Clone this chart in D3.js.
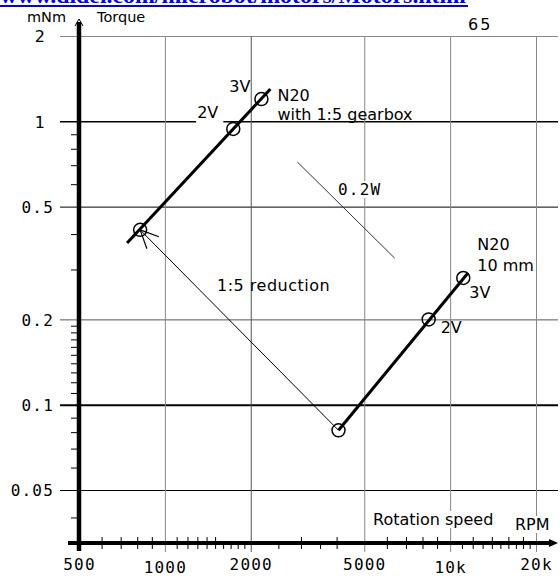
<!DOCTYPE html>
<html><head><meta charset="utf-8">
<script src="https://cdn.jsdelivr.net/npm/d3@7"></script>
<style>
html,body{margin:0;padding:0;background:#fff;overflow:hidden;}
svg{display:block;}
</style></head><body>
<script>
// ---- data ----
const xTickValues = [500, 1000, 2000, 5000, 10000, 20000];
const xTickLabels = ["500", "1000", "2000", "5000", "10k", "20k"];
const xGridValues = [1000, 2000, 5000, 10000, 20000];
const yTickValues = [0.05, 0.1, 0.2, 0.5, 1, 2];
const yTickLabels = ["0.05", "0.1", "0.2", "0.5", "1", "2"];
const xMinorFull = [600, 700, 800, 900, 1100, 1200, 1300, 1400, 1500, 3000, 4000, 6000, 7000, 8000, 9000, 12000, 14000, 16000, 18000];
const xMinorShort = [1600, 1700, 1800, 1900, 2500, 3500, 11000, 13000, 15000, 17000, 19000];
const yMinor = [0.04, 0.06, 0.07, 0.08, 0.09, 0.11, 0.12, 0.13, 0.14, 0.15, 0.16, 0.17, 0.18, 0.19, 0.3, 0.4, 0.6, 0.7, 0.8, 0.9];

// N20 10 mm motor: reduction point, 2V, 3V
const n20Speed = [4062, 8410, 11120];
const n20Torque = [0.0812, 0.200, 0.280];
const n20LineSpeed = [4062, 11530];
const n20LineTorque = [0.0812, 0.291];
// N20 with 1:5 gearbox: reduction point, 2V, 3V
const gearSpeed = [819, 1737, 2180];
const gearTorque = [0.414, 0.940, 1.198];
const gearLineSpeed = [737, 2344];
const gearLineTorque = [0.372, 1.30];
// 0.2 W iso-power line
const powerSpeed = [2916, 6390];
const powerTorque = [0.718, 0.329];

// ---- layout ----
const W = 560, H = 577;
const svg = d3.select("body").append("svg").attr("width", W).attr("height", H);
const x = d3.scaleLog().domain([500, 20000]).range([79, 536]);
const y = d3.scaleLog().domain([0.05, 2]).range([490, 36]);
const axisY = 543; // x-axis baseline position
const sans = "DejaVu Sans, sans-serif";
const mono = "DejaVu Sans Mono, monospace";

// URL header (clipped at top)
svg.append("text").attr("x", 0).attr("y", 3)
  .attr("font-family", "Liberation Serif, serif").attr("font-weight", "bold").attr("font-size", 20)
  .attr("fill", "#0000EE").attr("textLength", 466).attr("lengthAdjust", "spacingAndGlyphs")
  .text("www.didel.com/microbot/motors/Motors.html");
svg.append("rect").attr("x", 0).attr("y", 5).attr("width", 468).attr("height", 2).attr("fill", "#0000EE");

// horizontal gridlines via axis
const hStyles = [
  {c: "#000", w: 1}, {c: "#000", w: 2}, {c: "#555", w: 1}, {c: "#000", w: 1}, {c: "#000", w: 1.5}, {c: "#888", w: 1}
];
const gH = svg.append("g").attr("transform", "translate(60,0)")
  .call(d3.axisLeft(y).tickValues(yTickValues).tickSize(-498).tickPadding(7)
    .tickFormat((d, i) => yTickLabels[i]));
gH.select(".domain").remove();
gH.selectAll(".tick line").each(function(d, i) {
  d3.select(this).attr("stroke", hStyles[i].c).attr("stroke-width", hStyles[i].w);
});
gH.selectAll(".tick text").each(function(d, i) {
  const t = d3.select(this);
  if (d >= 1) {
    t.attr("font-family", sans).attr("font-size", 16).attr("x", -15);
  } else {
    t.attr("font-family", mono).attr("font-size", 16).attr("letter-spacing", 1.2).attr("x", -6);
  }
  t.attr("fill", "#000").attr("dy", "0.36em");
});

// vertical gridlines via axis
const gV = svg.append("g").attr("transform", `translate(0,552)`)
  .call(d3.axisBottom(x).tickValues(xGridValues).tickSize(-516).tickFormat(""));
gV.select(".domain").remove();
gV.selectAll(".tick line").attr("stroke", (d) => d === 2000 ? "#555" : "#888").attr("stroke-width", 1);

// minor ticks
const gmx = svg.append("g").attr("transform", `translate(0,${axisY - 6})`)
  .call(d3.axisBottom(x).tickValues(xMinorFull).tickSize(12).tickFormat(""));
gmx.select(".domain").remove();
gmx.selectAll(".tick line").attr("stroke", "#000").attr("stroke-width", 1);
const gmx2 = svg.append("g").attr("transform", `translate(0,${axisY})`)
  .call(d3.axisBottom(x).tickValues(xMinorShort).tickSize(6).tickFormat(""));
gmx2.select(".domain").remove();
gmx2.selectAll(".tick line").attr("stroke", "#000").attr("stroke-width", 1);
const gmy = svg.append("g").attr("transform", `translate(${x(500) + 2},0)`)
  .call(d3.axisLeft(y).tickValues(yMinor).tickSize(10).tickFormat(""));
gmy.select(".domain").remove();
gmy.selectAll(".tick line").attr("stroke", "#000").attr("stroke-width", 1);

// x tick labels via axis
const gxl = svg.append("g").attr("transform", `translate(0,${axisY})`)
  .call(d3.axisBottom(x).tickValues(xTickValues).tickSize(0).tickFormat((d, i) => xTickLabels[i]));
gxl.select(".domain").remove();
gxl.selectAll(".tick text")
  .attr("font-family", mono).attr("font-size", 16).attr("letter-spacing", 1.2).attr("fill", "#000")
  .attr("dy", 0)
  .attr("y", (d) => (d === 1000 || d === 10000) ? 30 : 27);

// main axes (thick)
svg.append("line").attr("x1", x(500)).attr("x2", x(500)).attr("y1", 22).attr("y2", 551)
  .attr("stroke", "#000").attr("stroke-width", 4.5);
svg.append("line").attr("x1", 68).attr("x2", 552).attr("y1", axisY).attr("y2", axisY)
  .attr("stroke", "#000").attr("stroke-width", 4);
svg.append("path").attr("d", `M${x(500) - 4},26 L${x(500)},19 L${x(500) + 4},26`)
  .attr("fill", "none").attr("stroke", "#000").attr("stroke-width", 1);
svg.append("path").attr("d", `M549,${axisY - 4} L558,${axisY} L549,${axisY + 4} Z`).attr("fill", "#000");

// helper for text with white background
function label(txt, px, py, opts = {}) {
  const g = svg.append("g");
  const t = g.append("text").attr("x", px).attr("y", py)
    .attr("font-family", opts.font || sans).attr("font-size", opts.size || 16)
    .attr("fill", "#000").attr("text-anchor", opts.anchor || "start")
    .attr("letter-spacing", opts.ls || 0).text(txt);
  if (opts.bg) {
    const b = t.node().getBBox();
    const extra = opts.extra || 0;
    g.insert("rect", "text").attr("x", b.x - 1).attr("y", b.y + 1).attr("width", b.width + 2 + extra)
      .attr("height", b.height - 2 + extra)
      .attr("fill", "#fff");
  }
  return t;
}

// axis titles
label("mNm", 27, 22, {size: 14.5});
label("Torque", 97, 22, {size: 14.5});
label("65", 468, 30, {size: 16, ls: 2});
label("Rotation speed", 373, 525, {size: 16, bg: true});
label("RPM", 515, 530, {size: 16, bg: true});

// 0.2 W line
svg.append("line")
  .attr("x1", x(powerSpeed[0])).attr("y1", y(powerTorque[0]))
  .attr("x2", x(powerSpeed[1])).attr("y2", y(powerTorque[1]))
  .attr("stroke", "#333").attr("stroke-width", 1);

// reduction line with open arrow at the gearbox point
const rx1 = x(n20Speed[0]), ry1 = y(n20Torque[0]), rx2 = x(gearSpeed[0]), ry2 = y(gearTorque[0]);
svg.append("line").attr("x1", rx1).attr("y1", ry1).attr("x2", rx2).attr("y2", ry2)
  .attr("stroke", "#000").attr("stroke-width", 1);
const ang = Math.atan2(ry1 - ry2, rx1 - rx2);
const aL = 20, aA = 25 * Math.PI / 180;
svg.append("path").attr("d",
  `M${rx2 + aL * Math.cos(ang - aA)},${ry2 + aL * Math.sin(ang - aA)} L${rx2},${ry2} L${rx2 + aL * Math.cos(ang + aA)},${ry2 + aL * Math.sin(ang + aA)}`)
  .attr("fill", "none").attr("stroke", "#000").attr("stroke-width", 1.2);

// motor lines
const lineGen = d3.line().x(d => x(d[0])).y(d => y(d[1]));
svg.append("path").datum(d3.zip(gearLineSpeed, gearLineTorque)).attr("d", lineGen)
  .attr("fill", "none").attr("stroke", "#000").attr("stroke-width", 3);
svg.append("path").datum(d3.zip(n20LineSpeed, n20LineTorque)).attr("d", lineGen)
  .attr("fill", "none").attr("stroke", "#000").attr("stroke-width", 3);

// circles
svg.selectAll("circle.g").data(d3.zip(gearSpeed, gearTorque)).join("circle")
  .attr("cx", d => x(d[0])).attr("cy", d => y(d[1])).attr("r", 6.5)
  .attr("fill", "none").attr("stroke", "#000").attr("stroke-width", 1.5);
svg.selectAll("circle.n").data(d3.zip(n20Speed, n20Torque)).join("circle")
  .attr("cx", d => x(d[0])).attr("cy", d => y(d[1])).attr("r", 6.5)
  .attr("fill", "none").attr("stroke", "#000").attr("stroke-width", 1.5);

// annotations relative to points
const gx = gearSpeed.map(x), gy = gearTorque.map(y);
const nx = n20Speed.map(x), ny = n20Torque.map(y);
label("2V", gx[1] - 15, gy[1] - 11, {anchor: "end", bg: true, extra: 4});
label("3V", gx[2] - 11, gy[2] - 7, {anchor: "end"});
label("N20", gx[2] + 16, gy[2] + 2);
label("with 1:5 gearbox", gx[2] + 16, gy[2] + 21);
label("2V", nx[1] + 12, ny[1] + 14);
label("3V", nx[2] + 6, ny[2] + 20);
label("N20", nx[2] + 14, ny[2] - 28);
label("10 mm", nx[2] + 14, ny[2] - 7);
label("0.2W", 338, 195, {font: mono, ls: 1.2, bg: true});
label("1:5 reduction", 217, 291, {ls: 0.5});
</script>
</body></html>
